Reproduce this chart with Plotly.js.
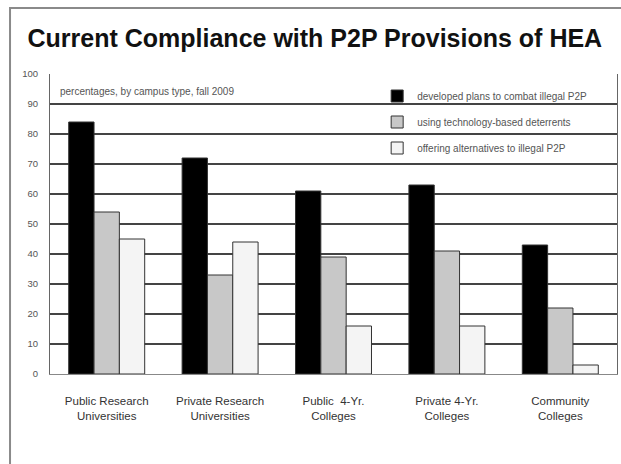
<!DOCTYPE html>
<html>
<head>
<meta charset="utf-8">
<script src="https://cdn.plot.ly/plotly-3.0.1.min.js"></script>
<style>html,body{margin:0;padding:0;background:#fff;}#chart{width:621px;height:464px;}</style>
</head>
<body>
<div id="chart"></div>
<script>
const categories = ["Public Research<br>Universities", "Private Research<br>Universities", "Public  4-Yr.<br>Colleges", "Private 4-Yr.<br>Colleges", "Community<br>Colleges"];
const seriesNames = ["developed plans to combat illegal P2P", "using technology-based deterrents", "offering alternatives to illegal P2P"];
const developedPlans = [84, 72, 61, 63, 43];
const techDeterrents = [54, 33, 39, 41, 22];
const alternatives = [45, 44, 16, 16, 3];
const yTicks = [0, 10, 20, 30, 40, 50, 60, 70, 80, 90, 100];

const colors = ["#000000", "#c8c8c8", "#f4f4f4"];
const values = [developedPlans, techDeterrents, alternatives];

const data = values.map((v, i) => ({
  type: "bar",
  x: categories,
  y: v,
  name: seriesNames[i],
  legendgroup: "g" + i,
  marker: {color: colors[i], line: {color: "#333", width: 1}},
  hoverinfo: "y"
}));

const layout = {
  width: 621, height: 464,
  margin: {l: 50, r: 4, t: 74, b: 90},
  paper_bgcolor: "#fff", plot_bgcolor: "#fff",
  font: {family: "Liberation Sans, Arial, sans-serif", color: "#333"},
  title: {text: "<b>Current Compliance with P2P Provisions of HEA</b>", font: {size: 25, color: "#111"}, x: 0.507, xanchor: "center", y: 0.917, yanchor: "middle"},
  barmode: "group",
  bargap: 0.33,
  bargroupgap: 0,
  showlegend: true,
  legend: {x: 0.577, y: 0.975, xanchor: "left", yanchor: "top", bgcolor: "rgba(0,0,0,0)", font: {size: 10, color: "#555"}, tracegroupgap: 7, traceorder: "grouped"},
  xaxis: {
    tickfont: {size: 11.5, color: "#333"},
    showline: true, linecolor: "#888", linewidth: 1, ticks: "", showgrid: false,
    ticklabelstandoff: 16
  },
  yaxis: {
    range: [0, 100], tickvals: yTicks, ticktext: yTicks.map(String),
    tickfont: {size: 9.5, color: "#555"},
    showgrid: true, gridcolor: "#444", gridwidth: 1.3,
    showline: true, linecolor: "#666", linewidth: 1, mirror: true,
    zeroline: false, ticks: "", ticklen: 0, ticklabelstandoff: 9
  },
  annotations: [{
    text: "percentages, by campus type, fall 2009", xref: "paper", yref: "paper",
    x: 0.014, y: 0.943, xanchor: "left", yanchor: "middle", showarrow: false,
    font: {size: 10, color: "#555"}
  }],
  shapes: [{
    type: "rect", xref: "paper", yref: "paper",
    x0: -0.0705, x1: 1.2, y0: -0.5, y1: 1.22,
    line: {color: "#8a8a8a", width: 2}, fillcolor: "rgba(0,0,0,0)", layer: "below"
  }]
};

Plotly.newPlot("chart", data, layout, {displayModeBar: false, staticPlot: true});
</script>
</body>
</html>
